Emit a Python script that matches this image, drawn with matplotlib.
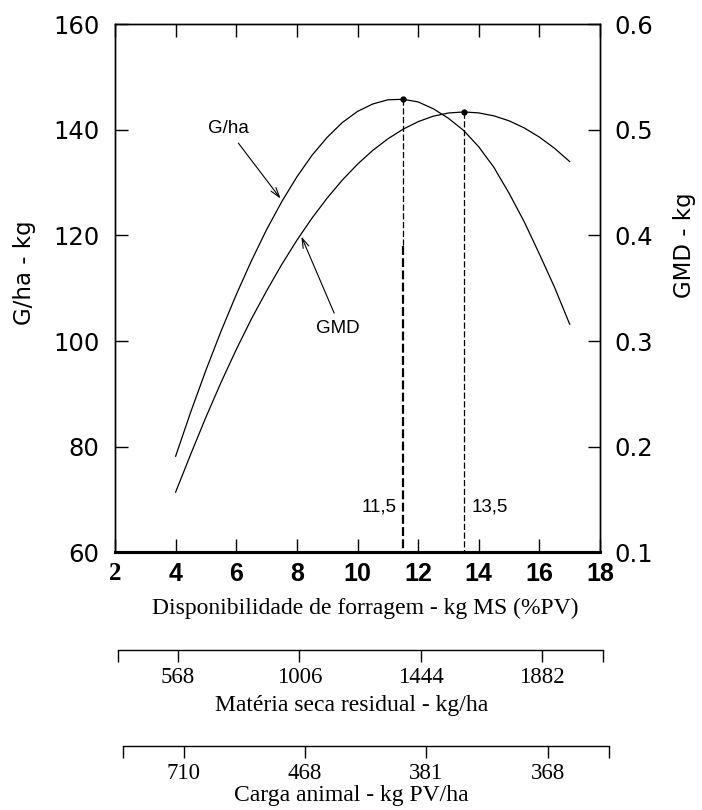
import matplotlib
matplotlib.use("Agg")
import matplotlib.pyplot as plt

# ---------------- data ----------------
gha_x = [4.0, 4.5, 5.0, 5.5, 6.0, 6.5, 7.0, 7.5, 8.0, 8.5, 9.0, 9.5, 10.0, 10.5, 11.0, 11.5,
         12.0, 12.5, 13.0, 13.5, 14.0, 14.5, 15.0, 15.5, 16.0, 16.5, 17.0]
gha_y = [78.2, 86.6, 94.5, 101.9, 108.8, 115.2, 121.1, 126.4, 131.1, 135.2, 138.6, 141.4, 143.5,
         144.9, 145.7, 145.8, 145.3, 144.0, 142.2, 139.9, 136.8, 132.9, 128.0, 122.6, 116.5,
         110.2, 103.2]

gmd_x = [4.0, 4.5, 5.0, 5.5, 6.0, 6.5, 7.0, 7.5, 8.0, 8.5, 9.0, 9.5, 10.0, 10.5, 11.0, 11.5,
         12.0, 12.5, 13.0, 13.5, 14.0, 14.5, 15.0, 15.5, 16.0, 16.5, 17.0]
gmd_y = [0.157, 0.193, 0.228, 0.261, 0.292, 0.321, 0.3475, 0.3725, 0.3955, 0.4165, 0.4355,
         0.4525, 0.4675, 0.4805, 0.4915, 0.5006, 0.5078, 0.5130, 0.5160, 0.5170, 0.5161,
         0.5133, 0.5086, 0.5019, 0.4932, 0.4826, 0.4700]

gha_peak_x, gha_peak_y = 11.5, 145.8
gmd_peak_x, gmd_peak_y = 13.5, 0.517

x_ticks = [2, 4, 6, 8, 10, 12, 14, 16, 18]
left_ticks = [60, 80, 100, 120, 140, 160]
right_ticks = [0.1, 0.2, 0.3, 0.4, 0.5, 0.6]

residual_pos = [4, 8, 12, 16]
residual_labels = ["568", "1006", "1444", "1882"]
carga_pos = [4, 8, 12, 16]
carga_labels = ["710", "468", "381", "368"]

W, H = 702, 810
fig = plt.figure(figsize=(W / 100, H / 100), dpi=100)

def fx(px):
    return px / W

def fy(py):
    return 1 - py / H

# ---------------- main axes ----------------
ax = fig.add_axes([fx(115), fy(552.3), (600 - 115) / W, (552.3 - 24.3) / H])
ax.set_xlim(2, 18)
ax.set_ylim(60, 160)
ax_r = ax.twinx()
ax_r.set_ylim(0.1, 0.6)

for a in (ax, ax_r):
    for s in a.spines.values():
        s.set_linewidth(1.0)
        s.set_color("black")
ax.spines["bottom"].set_linewidth(2.2)
ax_r.spines["bottom"].set_linewidth(2.2)

ax.set_xticks(x_ticks)
ax.set_xticklabels([str(v) for v in x_ticks])
ax.set_yticks(left_ticks)
ax.set_yticklabels([str(v) for v in left_ticks])
ax_r.set_yticks(right_ticks)
ax_r.set_yticklabels([f"{v:.1f}" for v in right_ticks])

ax.tick_params(axis="x", which="both", direction="in", length=9.5, width=1.0,
               top=True, bottom=True, labeltop=False, pad=7)
ax.tick_params(axis="y", direction="in", length=9.5, width=1.0, left=True, right=False, pad=11)
ax_r.tick_params(axis="y", direction="in", length=9, width=1.0, pad=10.5)

for lab in ax.get_yticklabels():
    lab.set_fontfamily("DejaVu Sans")
    lab.set_fontsize(17.5)
for lab in ax_r.get_yticklabels():
    lab.set_fontfamily("DejaVu Sans")
    lab.set_fontsize(17.5)
for i, lab in enumerate(ax.get_xticklabels()):
    lab.set_fontsize(18)
    lab.set_fontweight("bold")
    lab.set_fontfamily("Liberation Serif" if i == 0 else "Liberation Sans")

# curves
ax.plot(gha_x, gha_y, color="black", lw=0.9, solid_joinstyle="round")
ax_r.plot(gmd_x, gmd_y, color="black", lw=0.9, solid_joinstyle="round")

# peak markers
ax.plot([gha_peak_x], [gha_peak_y], "o", color="black", ms=3.5)
ax_r.plot([gmd_peak_x], [gmd_peak_y], "o", color="black", ms=3.5)

# vertical dashed lines
ax.plot([gha_peak_x, gha_peak_x], [gha_peak_y, 118], color="black", lw=0.9,
        linestyle=(0, (5, 2)))
ax.plot([gha_peak_x, gha_peak_x], [118, 60], color="black", lw=1.6,
        linestyle=(0, (4, 1.5)))
ax_r.plot([gmd_peak_x, gmd_peak_x], [gmd_peak_y, 0.1], color="black", lw=0.9,
          linestyle=(0, (5, 2)))

ax.text(11.3, 68.6, "11,5", ha="right", va="center", fontsize=13.5,
        family="Liberation Sans")
ax.text(13.75, 68.6, "13,5", ha="left", va="center", fontsize=13.5,
        family="Liberation Sans")

# annotations
arrow = dict(arrowstyle="->,head_length=0.7,head_width=0.22", lw=0.8, color="black",
             shrinkA=0, shrinkB=0)
ax.annotate("", xy=(7.46, 127.0), xytext=(6.07, 137.5), arrowprops=arrow)
ax.text(5.74, 140.3, "G/ha", ha="center", va="center", fontsize=13.5, family="Liberation Sans")
ax.annotate("", xy=(8.15, 119.8), xytext=(9.23, 105.3), arrowprops=arrow)
ax.text(9.34, 102.4, "GMD", ha="center", va="center", fontsize=13.5, family="Liberation Sans")

# axis labels
fig.text(fx(25), fy(273), "G/ha - kg", rotation=90, ha="center", va="center",
         fontsize=16.5, family="DejaVu Sans")
fig.text(fx(685), fy(245), "GMD - kg", rotation=90, ha="center", va="center",
         fontsize=16.5, family="DejaVu Sans")
fig.text(fx(365), fy(608), "Disponibilidade de forragem - kg MS (%PV)", ha="center",
         va="center", fontsize=17, family="Liberation Serif")

# ---------------- secondary scales ----------------
def scale_axis(left_px, right_px, line_py, positions, labels):
    a = fig.add_axes([fx(left_px), fy(line_py), (right_px - left_px) / W, 0.0005])
    a.set_facecolor("none")
    for k in ("left", "right", "top"):
        a.spines[k].set_visible(False)
    a.spines["bottom"].set_linewidth(1.0)
    a.set_xlim(2, 18)
    a.set_yticks([])
    a.set_xticks([2] + list(positions) + [18])
    a.set_xticklabels([""] + list(labels) + [""])
    a.tick_params(axis="x", direction="out", length=8.5, width=1.0, pad=4)
    for lab in a.get_xticklabels():
        lab.set_fontfamily("Liberation Serif")
        lab.set_fontsize(16.5)
    return a

scale_axis(117.5, 602.5, 650, residual_pos, residual_labels)
fig.text(fx(352), fy(706), "Matéria seca residual - kg/ha", ha="center", va="center",
         fontsize=17, family="Liberation Serif")

scale_axis(123, 608.5, 745.7, carga_pos, carga_labels)
fig.text(fx(351), fy(795), "Carga animal - kg PV/ha", ha="center", va="center",
         fontsize=17, family="Liberation Serif")

fig.savefig("out.png", dpi=100, facecolor="white")
